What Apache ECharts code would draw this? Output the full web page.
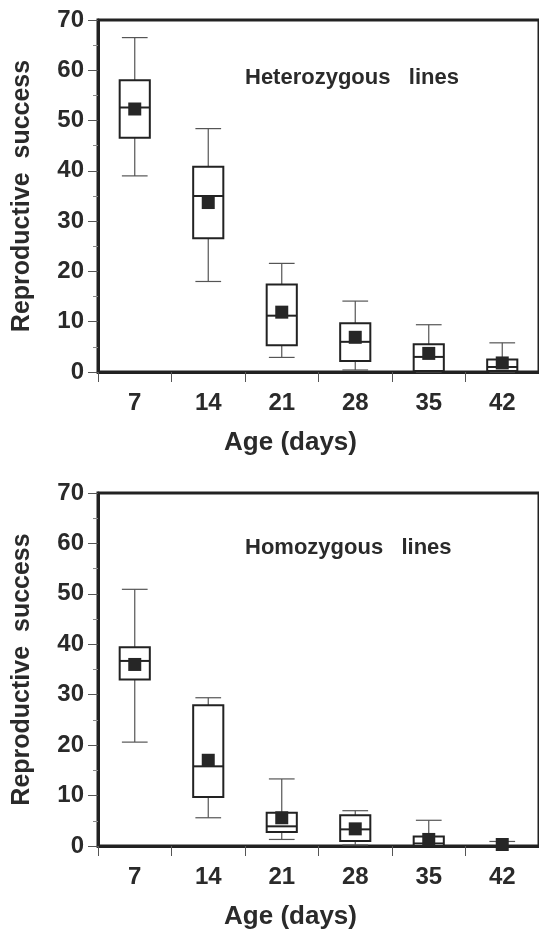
<!DOCTYPE html>
<html>
<head>
<meta charset="utf-8">
<script src="https://cdn.jsdelivr.net/npm/echarts@6/dist/echarts.min.js"></script>
<style>
  html, body { margin: 0; padding: 0; background: #fff; }
  #chart { width: 539px; height: 936px; }
</style>
</head>
<body>
<div id="chart"></div>
<script>
// age categories (days)
const days = ['7', '14', '21', '28', '35', '42']
const yTicks = [0, 10, 20, 30, 40, 50, 60, 70]

// heterozygous lines: whisker ends, quartiles, median, mean
const hetMin = [39.0, 18.0, 2.9, 0.4, 0, 0]
const hetQ1 = [46.6, 26.6, 5.3, 2.2, 0.2, 0.2]
const hetMedian = [52.6, 35.0, 11.2, 6.0, 3.0, 1.0]
const hetQ3 = [58.0, 40.8, 17.4, 9.7, 5.5, 2.5]
const hetMax = [66.5, 48.4, 21.6, 14.1, 9.4, 5.8]
const hetMean = [52.3, 33.7, 11.9, 6.9, 3.7, 1.8]

// homozygous lines
const homMin = [20.6, 5.6, 1.3, 0.2, 0, 0]
const homQ1 = [33.0, 9.7, 2.8, 1.0, 0, 0]
const homMedian = [36.7, 15.8, 3.9, 3.3, 0.5, 0]
const homQ3 = [39.4, 27.9, 6.6, 6.1, 1.9, 0]
const homMax = [50.9, 29.4, 13.3, 7.0, 5.1, 0.9]
const homMean = [36.0, 17.0, 5.6, 3.4, 1.3, 0.3]

const FONT = '"Liberation Sans", Arial, sans-serif'
const TEXT = '#2a2a2a'
const AXIS = '#222'

function boxRows(mn, q1, med, q3, mx) {
  return days.map((d, i) => [i, mn[i], q1[i], med[i], q3[i], mx[i]])
}

// whiskers, caps, box and median line, all placed through the axes
function renderBox(params, api) {
  const i = api.value(0)
  const pMin = api.coord([i, api.value(1)])
  const pQ1 = api.coord([i, api.value(2)])
  const pMed = api.coord([i, api.value(3)])
  const pQ3 = api.coord([i, api.value(4)])
  const pMax = api.coord([i, api.value(5)])
  const band = api.size([1, 0])[0]
  const bw = band * 0.41
  const cw = band * 0.35
  const cx = pMed[0]
  const thin = { stroke: '#555', lineWidth: 1.2 }
  const thick = { stroke: AXIS, lineWidth: 2 }
  return {
    type: 'group',
    children: [
      { type: 'line', shape: { x1: cx, y1: pQ3[1], x2: cx, y2: pMax[1] }, style: thin },
      { type: 'line', shape: { x1: cx - cw / 2, y1: pMax[1], x2: cx + cw / 2, y2: pMax[1] }, style: thin },
      { type: 'line', shape: { x1: cx, y1: pQ1[1], x2: cx, y2: pMin[1] }, style: thin },
      { type: 'line', shape: { x1: cx - cw / 2, y1: pMin[1], x2: cx + cw / 2, y2: pMin[1] }, style: thin },
      { type: 'rect', shape: { x: cx - bw / 2, y: pQ3[1], width: bw, height: pQ1[1] - pQ3[1] }, style: Object.assign({ fill: '#fff' }, thick) },
      { type: 'line', shape: { x1: cx - bw / 2, y1: pMed[1], x2: cx + bw / 2, y2: pMed[1] }, style: thick }
    ]
  }
}

function makeX(idx) {
  return {
    type: 'category',
    gridIndex: idx,
    data: days,
    boundaryGap: true,
    name: 'Age (days)',
    nameLocation: 'middle',
    nameGap: 58,
    nameTextStyle: { fontSize: 26, fontWeight: 'bold', color: TEXT, fontFamily: FONT, padding: [0, 56, 0, 0] },
    axisLine: { lineStyle: { color: AXIS, width: 3 } },
    axisTick: { show: true, length: 10, lineStyle: { color: '#555', width: 1 } },
    axisLabel: { fontSize: 24, fontWeight: 'bold', color: TEXT, fontFamily: FONT, margin: 19 },
    splitLine: { show: false }
  }
}

function makeY(idx) {
  return {
    type: 'value',
    gridIndex: idx,
    min: yTicks[0],
    max: yTicks[yTicks.length - 1],
    interval: 10,
    name: 'Reproductive  success',
    nameLocation: 'middle',
    nameGap: 63,
    nameTextStyle: { fontSize: 25, fontWeight: 'bold', color: TEXT, fontFamily: FONT },
    axisLine: { show: true, lineStyle: { color: AXIS, width: 3 } },
    axisTick: { show: true, length: 10, lineStyle: { color: '#555', width: 1 } },
    minorTick: { show: true, splitNumber: 2, length: 5, lineStyle: { color: '#888', width: 1 } },
    axisLabel: { fontSize: 24, fontWeight: 'bold', color: TEXT, fontFamily: FONT, margin: 14 },
    splitLine: { show: false }
  }
}

function makeSeries(idx, mn, q1, med, q3, mx, mean) {
  return [{
    type: 'custom',
    xAxisIndex: idx,
    yAxisIndex: idx,
    silent: true,
    renderItem: renderBox,
    encode: { x: 0, y: [1, 2, 3, 4, 5] },
    data: boxRows(mn, q1, med, q3, mx)
  }, {
    type: 'scatter',
    xAxisIndex: idx,
    yAxisIndex: idx,
    silent: true,
    symbol: 'rect',
    symbolSize: 13,
    z: 5,
    itemStyle: { color: '#262626', opacity: 1 },
    data: mean.slice()
  }]
}

const myChart = echarts.init(document.getElementById('chart'))
const option = {
  backgroundColor: '#fff',
  animation: false,
  title: [{
    text: 'Heterozygous   lines',
    left: 245,
    top: 67,
    padding: 0,
    textStyle: { fontSize: 22, fontWeight: 'bold', color: TEXT, fontFamily: FONT }
  }, {
    text: 'Homozygous   lines',
    left: 245,
    top: 537,
    padding: 0,
    textStyle: { fontSize: 22, fontWeight: 'bold', color: TEXT, fontFamily: FONT }
  }],
  grid: [
    { left: 98, top: 20, width: 444, height: 352, show: true, borderColor: AXIS, borderWidth: 3, backgroundColor: 'transparent' },
    { left: 98, top: 493, width: 444, height: 353, show: true, borderColor: AXIS, borderWidth: 3, backgroundColor: 'transparent' }
  ],
  xAxis: [makeX(0), makeX(1)],
  yAxis: [makeY(0), makeY(1)],
  series: [].concat(
    makeSeries(0, hetMin, hetQ1, hetMedian, hetQ3, hetMax, hetMean),
    makeSeries(1, homMin, homQ1, homMedian, homQ3, homMax, homMean)
  )
}
myChart.setOption(option)
</script>
</body>
</html>
